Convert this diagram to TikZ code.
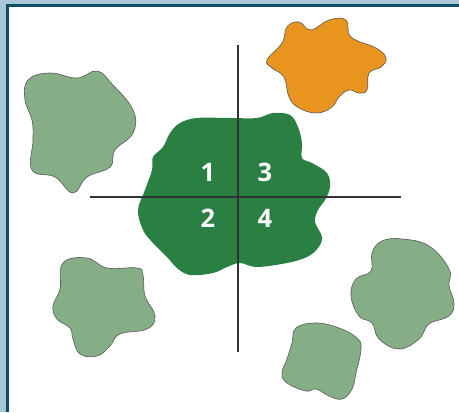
\documentclass[tikz,border=0pt]{standalone}
\usepackage{fontspec}
\setmainfont{Open Sans}
\usepackage{tikz}

\definecolor{framelight}{HTML}{A9C8D6}
\definecolor{framedark}{HTML}{0E4D66}
\definecolor{coregreen}{HTML}{2A7F43}
\definecolor{palegreen}{HTML}{86AE86}
\definecolor{blobOrange}{HTML}{E8941F}

\tikzset{
  blob/.style={draw=black!65,line width=.35pt},
  quad/.style={text=white,font=\bfseries\fontsize{14.5}{14.5}\selectfont},
  axis/.style={draw=black!80,line width=.7pt}
}

\begin{document}
\begin{tikzpicture}[x=.02cm,y=-.02cm]
  \useasboundingbox (0,0) rectangle (459,412);
  % frame
  \fill[framelight] (0,0) rectangle (459,412);
  \fill[framedark] (6,4) rectangle (459,412);
  \fill[white] (9,7) rectangle (459,412);

  % outer blobs
  \filldraw[blob,fill=palegreen] plot[smooth cycle,tension=.7] coordinates
    {(28,80) (50,73) (77,78) (97,71) (112,84) (133,110) (133,133) (115,150)
     (110,167) (87,177) (73,193) (55,177) (32,170) (33,140) (32,120) (25,100)};
  \filldraw[blob,fill=blobOrange] plot[smooth cycle,tension=.7] coordinates
    {(267,60) (282,43) (287,27) (299,22) (311,30) (329,20) (346,20) (351,37)
     (376,48) (386,58) (381,67) (369,73) (367,90) (359,93) (349,90) (339,97)
     (332,107) (317,113) (299,108) (289,97) (284,77) (272,68)};
  \filldraw[blob,fill=palegreen] plot[smooth cycle,tension=.7] coordinates
    {(63,263) (87,258) (107,268) (137,268) (143,275) (145,296) (155,316)
     (147,329) (120,334) (110,346) (97,356) (80,354) (73,339) (70,328)
     (57,319) (53,306) (60,289)};
  \filldraw[blob,fill=palegreen] plot[smooth cycle,tension=.7] coordinates
    {(372,253) (382,241) (402,239) (429,246) (449,269) (449,286) (454,303)
     (449,316) (429,324) (419,339) (399,349) (379,339) (372,323) (359,316)
     (351,296) (356,279) (371,271)};
  \filldraw[blob,fill=palegreen] plot[smooth cycle,tension=.7] coordinates
    {(296,328) (316,323) (339,328) (357,338) (361,349) (356,373) (352,389)
     (342,399) (329,396) (316,389) (306,391) (287,383) (282,373) (287,359)
     (292,343)};

  % central blob
  \fill[coregreen] plot[smooth cycle,tension=.6] coordinates
    {(180,123) (197,118) (230,118) (257,118) (273,113) (290,115) (298,127)
     (302,143) (302,158) (312,163) (327,173) (330,187) (325,200) (318,210)
     (315,222) (322,237) (318,248) (307,257) (287,263) (257,267) (240,263)
     (227,267) (213,273) (190,275) (177,268) (167,257) (153,243) (143,230)
     (138,210) (145,190) (152,170) (153,157) (163,147) (170,133)};

  % cross
  \coordinate (west) at (90,197);
  \coordinate (east) at (401,197);
  \coordinate (north) at (238,45);
  \coordinate (south) at (238,352);
  \draw[axis] (west) -- (east);
  \draw[axis] (north) -- (south);

  \node[quad] (q1) at (208,172) {1};
  \node[quad] (q3) at (265,172) {3};
  \node[quad] (q2) at (208,218) {2};
  \node[quad] (q4) at (265,218) {4};
\end{tikzpicture}
\end{document}
